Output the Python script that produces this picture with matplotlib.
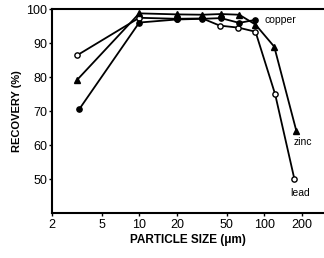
import matplotlib
matplotlib.use("Agg")
import matplotlib.pyplot as plt
from matplotlib.ticker import FixedLocator, NullLocator

# particle size (um) and recovery (%)
lead_size = [3.2, 10, 20, 32, 44, 62, 85, 122, 174]
lead_rec = [86.5, 97.5, 97.2, 97.3, 95.2, 94.6, 93.4, 75.0, 50.0]

zinc_size = [3.2, 10, 20, 32, 45, 63, 85, 120, 180]
zinc_rec = [79.3, 98.8, 98.5, 98.4, 98.6, 98.4, 95.5, 89.0, 64.3]

copper_size = [3.3, 10, 20, 32, 45, 63, 85]
copper_rec = [70.5, 96.1, 97.0, 97.2, 97.4, 96.0, 96.9]

xticks = [2, 5, 10, 20, 50, 100, 200]
yticks = [50, 60, 70, 80, 90, 100]

plt.rcParams["font.family"] = ["Liberation Sans", "DejaVu Sans"]

fig = plt.figure(figsize=(3.24, 2.58), dpi=100)
ax = fig.add_axes([0.160, 0.174, 0.840, 0.790])

kw = dict(color="black", lw=1.3, ms=3.8, clip_on=False)
ax.plot(lead_size, lead_rec, marker="o", mfc="white", mew=1.0, **kw)
ax.plot(zinc_size, zinc_rec, marker="^", mfc="black", **kw)
ax.plot(copper_size, copper_rec, marker="o", mfc="black", **kw)

ax.text(100, 96.9, "copper", fontsize=7.5, va="center", ha="left")
ax.text(172, 61.0, "zinc", fontsize=7.5, va="center", ha="left")
ax.text(160, 46.0, "lead", fontsize=7.5, va="center", ha="left")

ax.set_xscale("log")
ax.set_xlim(2, 300)
ax.set_ylim(40, 100)
ax.xaxis.set_major_locator(FixedLocator(xticks))
ax.xaxis.set_minor_locator(NullLocator())
ax.set_xticklabels([str(t) for t in xticks])
ax.set_yticks(yticks)
ax.tick_params(axis="x", direction="out", length=2.5, width=1, labelsize=9, pad=2)
ax.tick_params(axis="y", direction="out", length=2.5, width=1, labelsize=9, pad=1)

for side in ("left", "bottom", "top"):
    ax.spines[side].set_linewidth(1.5)
ax.spines["right"].set_visible(False)

ax.set_xlabel("PARTICLE SIZE (\u03bcm)", fontsize=8.5, fontweight="bold", labelpad=2)
ax.set_ylabel("RECOVERY (%)", fontsize=8, fontweight="bold", labelpad=3)

fig.savefig("out.png", dpi=100)
